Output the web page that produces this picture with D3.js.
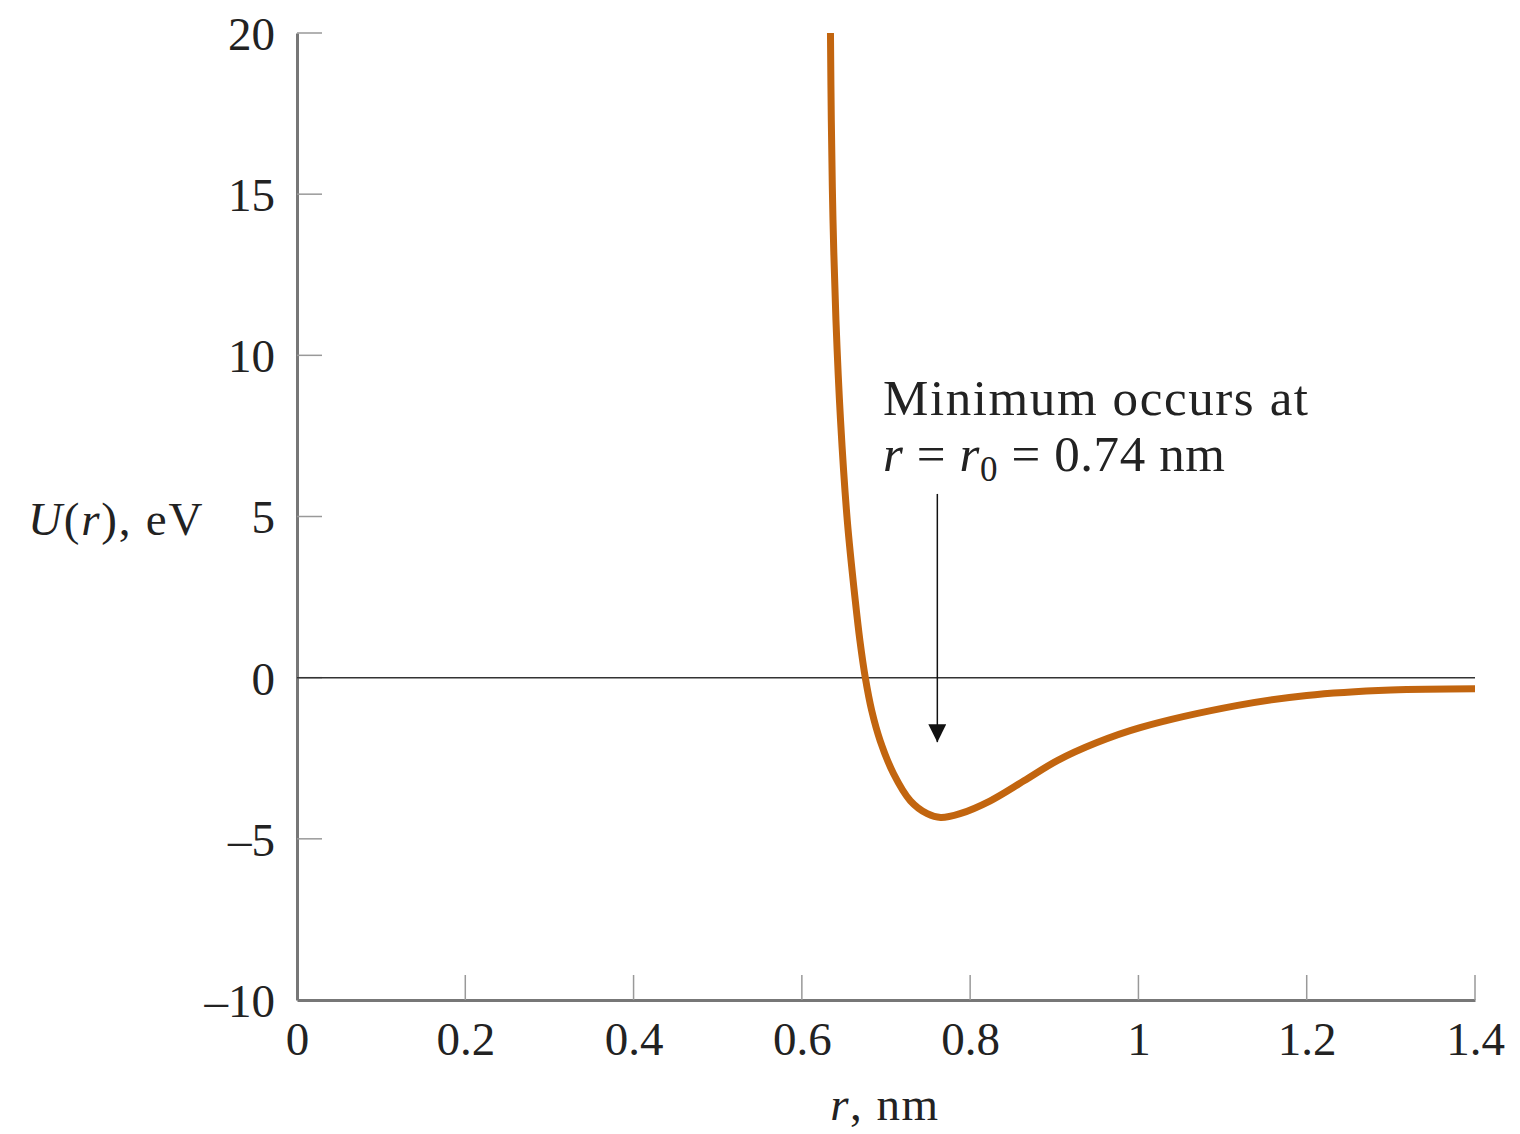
<!DOCTYPE html>
<html>
<head>
<meta charset="utf-8">
<script src="https://cdn.jsdelivr.net/npm/d3@7"></script>
<style>
  body { margin: 0; background: #fff; }
  svg text { font-family: "Liberation Serif", "DejaVu Serif", serif; fill: #222; }
</style>
</head>
<body>
<div id="chart"></div>
<script>
// values
const rValues = [0.634, 0.635, 0.637, 0.6405, 0.646, 0.654, 0.6635, 0.669, 0.6754, 0.683, 0.693, 0.709, 0.729, 0.749, 0.765, 0.788, 0.824, 0.864, 0.903, 0.95, 1.002, 1.118, 1.2, 1.3, 1.4];
const uValues = [20, 17.3, 14.2, 11.1, 7.97, 4.87, 2.39, 1.15, 0, -1.02, -1.95, -2.98, -3.82, -4.22, -4.34, -4.22, -3.82, -3.2, -2.58, -2.02, -1.55, -0.86, -0.55, -0.38, -0.34];
const xTicks = [0, 0.2, 0.4, 0.6, 0.8, 1, 1.2, 1.4];
const yTicks = [-10, -5, 0, 5, 10, 15, 20];
const arrowR = 0.761;
const arrowFrom = 5.7;
const arrowTo = -2.0;

const points = rValues.map((r, i) => ({ r, u: uValues[i] }));

const width = 1520;
const height = 1134;

const x = d3.scaleLinear().domain([0, 1.4]).range([297, 1475]);
const y = d3.scaleLinear().domain([-10, 20]).range([1000, 33]);

const svg = d3.select('#chart')
  .append('svg')
  .attr('width', width)
  .attr('height', height);

// x axis, ticks pointing inward
const xAxis = svg.append('g')
  .attr('transform', `translate(0,${y(-10)})`)
  .call(d3.axisBottom(x).tickValues(xTicks).tickSize(0).tickPadding(0).tickFormat(d3.format('')));
xAxis.select('.domain').attr('stroke', '#777').attr('stroke-width', 3);
xAxis.selectAll('.tick line').remove();
xAxis.selectAll('.tick text')
  .attr('font-size', 47)
  .attr('dy', 0)
  .attr('y', 55)
  .style('fill', '#222');

svg.append('g')
  .selectAll('line')
  .data(xTicks.filter(d => d > 0))
  .join('line')
  .attr('x1', d => x(d))
  .attr('x2', d => x(d))
  .attr('y1', y(-10))
  .attr('y2', y(-10) - 25)
  .attr('stroke', '#999')
  .attr('stroke-width', 1.5);

// y axis
const yAxis = svg.append('g')
  .attr('transform', `translate(${x(0)},0)`)
  .call(d3.axisLeft(y).tickValues(yTicks).tickSize(0).tickPadding(22)
    .tickFormat(d => d < 0 ? '\u2013' + Math.abs(d) : d));
yAxis.select('.domain').attr('stroke', '#777').attr('stroke-width', 3);
yAxis.selectAll('.tick line').remove();
yAxis.selectAll('.tick text')
  .attr('font-size', 47)
  .attr('dy', '0.35em')
  .style('fill', '#222');

svg.append('g')
  .selectAll('line')
  .data(yTicks.filter(d => d > -10))
  .join('line')
  .attr('x1', x(0))
  .attr('x2', x(0) + 25)
  .attr('y1', d => y(d))
  .attr('y2', d => y(d))
  .attr('stroke', '#999')
  .attr('stroke-width', 1.5);

// zero line
svg.append('line')
  .attr('x1', x(0))
  .attr('x2', x(1.4))
  .attr('y1', y(0))
  .attr('y2', y(0))
  .attr('stroke', '#333')
  .attr('stroke-width', 1.5);

// potential curve
const line = d3.line()
  .x(d => x(d.r))
  .y(d => y(d.u))
  .curve(d3.curveCatmullRom.alpha(0.5));

svg.append('path')
  .datum(points)
  .attr('d', line)
  .attr('fill', 'none')
  .attr('stroke', '#c2650f')
  .attr('stroke-width', 7);

// arrow to the minimum
svg.append('defs')
  .append('marker')
  .attr('id', 'head')
  .attr('viewBox', '0 0 10 10')
  .attr('refX', 10)
  .attr('refY', 5)
  .attr('markerWidth', 20)
  .attr('markerHeight', 18)
  .attr('markerUnits', 'userSpaceOnUse')
  .attr('orient', 'auto')
  .append('path')
  .attr('d', 'M0,0L10,5L0,10Z')
  .attr('fill', '#111');

svg.append('line')
  .attr('x1', x(arrowR))
  .attr('x2', x(arrowR))
  .attr('y1', y(arrowFrom))
  .attr('y2', y(arrowTo))
  .attr('stroke', '#111')
  .attr('stroke-width', 1.5)
  .attr('marker-end', 'url(#head)');

// annotation
svg.append('text')
  .attr('x', 883)
  .attr('y', 415)
  .attr('font-size', 51)
  .attr('letter-spacing', 1.6)
  .text('Minimum occurs at');

const note2 = svg.append('text')
  .attr('x', 883)
  .attr('y', 471)
  .attr('font-size', 51)
  .attr('letter-spacing', 0.6);
note2.append('tspan').attr('font-style', 'italic').text('r');
note2.append('tspan').text(' = ');
note2.append('tspan').attr('font-style', 'italic').text('r');
note2.append('tspan').attr('font-size', 35).attr('dy', 10).text('0');
note2.append('tspan').attr('dy', -10).text(' = 0.74 nm');

// axis titles
const yTitle = svg.append('text')
  .attr('x', 28)
  .attr('y', 535)
  .attr('font-size', 47)
  .attr('letter-spacing', 1.8);
yTitle.append('tspan').attr('font-style', 'italic').text('U');
yTitle.append('tspan').text('(');
yTitle.append('tspan').attr('font-style', 'italic').text('r');
yTitle.append('tspan').text('), eV');

const xTitle = svg.append('text')
  .attr('x', 885)
  .attr('y', 1120)
  .attr('text-anchor', 'middle')
  .attr('font-size', 47)
  .attr('letter-spacing', 1.5);
xTitle.append('tspan').attr('font-style', 'italic').text('r');
xTitle.append('tspan').text(', nm');
</script>
</body>
</html>
